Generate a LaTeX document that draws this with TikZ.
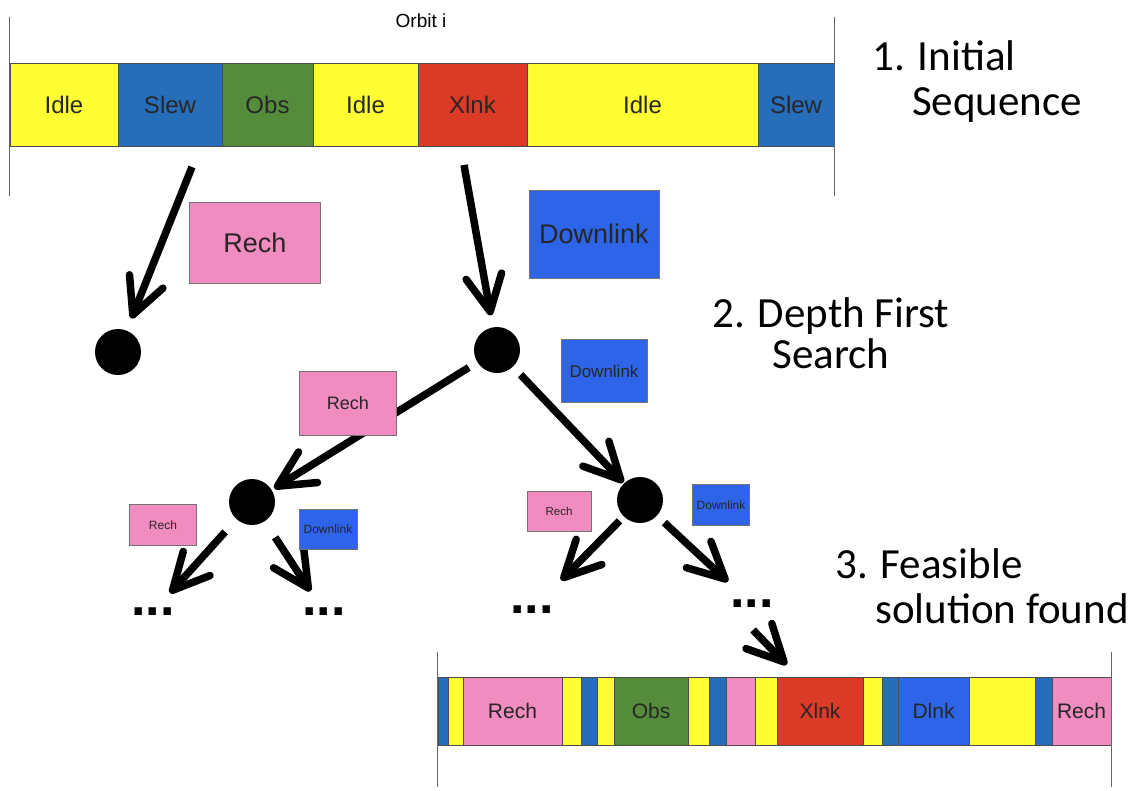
\documentclass[tikz,border=0pt]{standalone}
\usepackage{fontspec}
\setmainfont{Liberation Sans}
\newfontfamily\capfont{Carlito}
\usetikzlibrary{arrows.meta}

\definecolor{idle}{RGB}{255,255,51}
\definecolor{slew}{RGB}{38,110,186}
\definecolor{dlink}{RGB}{46,100,232}
\definecolor{obs}{RGB}{84,140,60}
\definecolor{xlnk}{RGB}{218,58,38}
\definecolor{rech}{RGB}{240,140,192}

\tikzset{
	seg/.style={draw=black!70, line width=0.8pt, inner sep=0pt, text=black!85},
	task/.style={draw=black!55, line width=0.6pt, inner sep=0pt, text=black!85},
	state/.style={circle, fill=black, inner sep=0pt, minimum size=46pt},
	branch/.style={line width=7.5pt, -{Straight Barb[round, length=36pt, width=36pt]}},
	rule/.style={black!60, line width=0.8pt},
	caption/.style={font=\capfont\fontsize{43}{50}\selectfont, inner sep=0pt},
	more/.style={font=\bfseries\fontsize{52}{52}\selectfont, inner sep=0pt}
}

\begin{document}
\begin{tikzpicture}[x=1pt,y=-1pt]
	\useasboundingbox (0,0) rectangle (1145,790);

	% initial sequence of orbit i
	\foreach \a/\b/\c/\t [count=\i] in {10/118/idle/Idle, 118/222/slew/Slew, 222/313/obs/Obs, 313/418/idle/Idle, 418/527/xlnk/Xlnk, 527/758/idle/Idle, 758/834/slew/Slew}
		\node[seg, fill=\c, minimum width={(\b-\a)*1pt}, minimum height=83pt, font=\fontsize{24}{27}\selectfont] (top\i) at ({(\a+\b)/2},104.5) {\t};
	\draw[rule] (top1.north west) ++(0,-46) -- ++(0,179);
	\draw[rule] (top7.north east) ++(0,-46) -- ++(0,179);
	\node[font=\fontsize{19}{22}\selectfont] (orbit) at (421,21) {Orbit i};

	% search tree
	\node[state] (n1) at (118,352) {};
	\node[state] (n2) at (497,350) {};
	\node[state] (n3) at (252,502) {};
	\node[state] (n4) at (640,500) {};
	\node[more] (d1) at (153,612) {...};
	\node[more] (d2) at (324,612) {...};
	\node[more] (d3) at (532,610) {...};
	\node[more] (d4) at (752,604) {...};

	\coordinate (t1) at (192,167);
	\coordinate (t2) at (464,165);
	\draw[branch, shorten >=13pt] (t1) -- (n1);
	\draw[branch, shorten >=12pt] (t2) -- (n2);
	\draw[branch, shorten <=10pt, shorten >=3pt] (n2) -- (n3);
	\draw[branch, shorten <=11pt, shorten >=1pt] (n2) -- (n4);
	\draw[branch, shorten <=17pt, shorten >=20pt] (n3) -- (d1);
	\draw[branch, shorten <=19pt, shorten >=20pt] (n3) -- (d2);
	\draw[branch, shorten <=6pt, shorten >=36pt] (n4) -- (d3);
	\draw[branch, shorten <=10pt, shorten >=27pt] (n4) -- (d4);

	% tasks tried at each branch
	\node[task, fill=rech, minimum width=131pt, minimum height=81pt, font=\fontsize{27}{30}\selectfont] (rech1) at (255,243) {Rech};
	\node[task, fill=dlink, minimum width=130pt, minimum height=88pt, font=\fontsize{27}{30}\selectfont] (down1) at (594,234) {Downlink};
	\node[task, fill=rech, minimum width=97pt, minimum height=64pt, font=\fontsize{18}{20}\selectfont] (rech2) at (348,403) {Rech};
	\node[task, fill=dlink, minimum width=86pt, minimum height=63pt, font=\fontsize{17}{20}\selectfont] (down2) at (604,371) {Downlink};
	\node[task, fill=rech, minimum width=67pt, minimum height=41pt, font=\fontsize{12}{14}\selectfont] (rech3) at (163,525) {Rech};
	\node[task, fill=dlink, minimum width=58pt, minimum height=40pt, font=\fontsize{12}{14}\selectfont] (down3) at (328,529) {Downlink};
	\node[task, fill=rech, minimum width=64pt, minimum height=40pt, font=\fontsize{11.5}{14}\selectfont] (rech4) at (559,511) {Rech};
	\node[task, fill=dlink, minimum width=57pt, minimum height=41pt, font=\fontsize{12}{14}\selectfont] (down4) at (721,505) {Downlink};

	% feasible solution
	\foreach \a/\b/\c/\t [count=\i] in {438/448/slew/{}, 448/463/idle/{}, 463/562/rech/Rech, 562/581/idle/{}, 581/597/slew/{}, 597/614/idle/{}, 614/688/obs/Obs, 688/709/idle/{}, 709/726/slew/{}, 726/755/rech/{}, 755/777/idle/{}, 777/863/xlnk/Xlnk, 863/882/idle/{}, 882/898/slew/{}, 898/969/dlink/Dlnk, 969/1035/idle/{}, 1035/1052/slew/{}, 1052/1111/rech/Rech}
		\node[seg, fill=\c, minimum width={(\b-\a)*1pt}, minimum height=68pt, font=\fontsize{21}{24}\selectfont] (bot\i) at ({(\a+\b)/2},711) {\t};
	\draw[rule] (bot1.north west) ++(0,-25) -- ++(0,135);
	\draw[rule] (bot18.north east) ++(0,-25) -- ++(0,135);

	\coordinate (t5) at (753,630);
	\coordinate (land) at ([xshift=10pt,yshift=12pt]bot12.north west);
	\draw[branch] (t5) -- (land);

	% step captions
	\node[caption, anchor=base west] (cap1a) at (872,70) {1. Initial};
	\node[caption, anchor=base west] (cap1b) at (912,115) {Sequence};
	\node[caption, anchor=base west] (cap2a) at (712,327) {2. Depth First};
	\node[caption, anchor=base] (cap2b) at (cap2a.base |- 0,368) {Search};
	\node[caption, anchor=base west] (cap3a) at (835,578) {3. Feasible};
	\node[caption, anchor=base west] (cap3b) at (875,623) {solution found};
\end{tikzpicture}
\end{document}
